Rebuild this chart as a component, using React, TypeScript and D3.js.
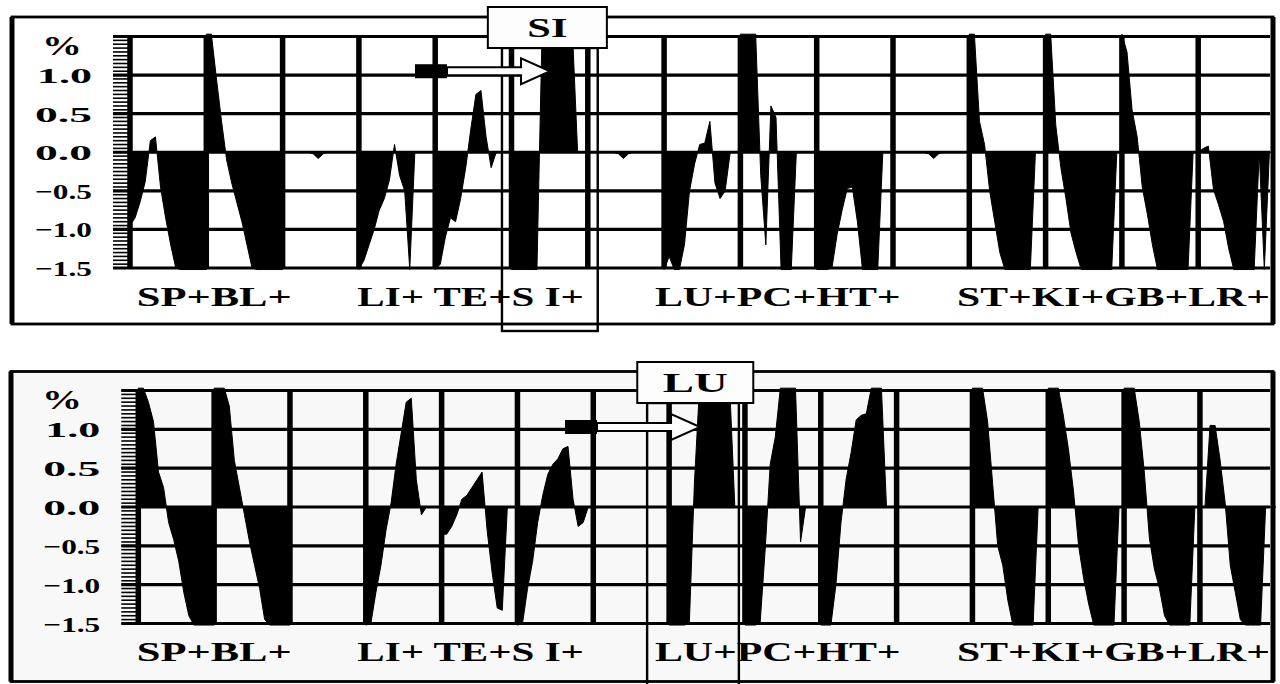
import React from "react";
import * as d3 from "d3";

// ---------- data ----------
const categories = ["SP", "BL", "", "LI", "TE", "SI", "", "LU", "PC", "HT", "", "ST", "KI", "GB", "LR"];
const yTicks = [1.0, 0.5, 0.0, -0.5, -1.0, -1.5];
const labelGroups = ["SP+BL+", "LI+ TE+S I+", "LU+PC+HT+", "ST+KI+GB+LR+"];

// Reference meridian SI (top panel): 16 samples per category
const siSP = [-0.95, -0.85, -0.64, -0.38, 0.15, 0.2, -0.45, -0.85, -1.2, -1.5, -1.6, -1.6, -1.6, -1.6, -1.6, -1.6];
const siBL = [1.6, 1.6, 0.95, 0.4, -0.1, -0.4, -0.65, -0.9, -1.2, -1.5, -1.6, -1.6, -1.6, -1.6, -1.6, -1.6];
const siGapA = [0, 0, 0, 0, 0, 0, -0.02, -0.08, -0.02, 0, 0, 0, 0, 0, 0, 0];
const siLI = [-1.6, -1.4, -1.2, -1.0, -0.75, -0.6, -0.36, 0.1, -0.3, -0.5, -1.6, 0, 0, 0, 0, 0];
const siTE = [-1.6, -1.45, -1.1, -0.85, -0.9, -0.6, -0.2, 0.3, 0.75, 0.8, 0.2, -0.2, 0, 0, 0, 0];
const siSI = [-1.6, -1.6, -1.6, -1.6, -1.6, -1.6, 1.6, 1.6, 1.6, 1.6, 1.6, 1.6, 1.6, 0, 0, 0];
const siGapB = [0, 0, 0, 0, 0, 0, -0.02, -0.08, -0.02, 0, 0, 0, 0, 0, 0, 0];
const siLU = [-1.6, -1.35, -1.6, -1.6, -1.2, -0.5, -0.15, 0.1, 0.12, 0.4, -0.4, -0.6, -0.5, 0, 0, 0];
const siPC = [1.6, 1.6, 1.6, 1.6, -0.3, -1.2, 0.6, 0.45, -1.6, -1.6, -1.6, 0, 0, 0, 0, 0];
const siHT = [-1.6, -1.6, -1.6, -1.5, -1.07, -0.75, -0.47, -0.45, -0.9, -1.6, -1.6, -1.6, -1.6, 0, 0, 0];
const siGapC = [0, 0, 0, 0, 0, 0, 0, -0.02, -0.08, -0.02, 0, 0, 0, 0, 0, 0];
const siST = [1.6, 1.6, 0.4, 0.1, -0.5, -0.9, -1.3, -1.6, -1.6, -1.6, -1.6, -1.6, -1.6, 0, 0, 0];
const siKI = [1.6, 1.6, 0.35, -0.2, -0.6, -1.05, -1.3, -1.6, -1.6, -1.6, -1.6, -1.6, -1.6, -1.6, 0, 0];
const siGB = [1.6, 1.3, 0.55, 0.2, -0.45, -0.8, -1.2, -1.6, -1.6, -1.6, -1.6, -1.6, -1.6, -1.6, 0, 0];
const siLR = [0, 0.05, 0.08, -0.48, -0.68, -0.9, -1.25, -1.6, -1.6, -1.6, -1.6, -1.6, 0, -1.6, 0, 0];

// Reference meridian LU (bottom panel)
const luSP = [1.6, 1.6, 1.35, 1.1, 0.45, 0.25, -0.2, -0.42, -0.7, -1.1, -1.4, -1.6, -1.6, -1.6, -1.6, -1.6];
const luBL = [1.6, 1.6, 1.6, 1.3, 0.6, 0.25, -0.1, -0.45, -0.75, -1.05, -1.45, -1.6, -1.6, -1.6, -1.6, -1.6];
const luGapA = [0, 0, 0, 0, 0, 0, 0, 0, 0, 0, 0, 0, 0, 0, 0, 0];
const luLI = [-1.6, -1.5, -1.1, -0.75, -0.3, 0.05, 0.55, 0.95, 1.35, 1.4, 0.35, -0.1, 0, 0, 0, 0];
const luTE = [-0.35, -0.35, -0.25, -0.1, 0.1, 0.15, 0.25, 0.35, 0.45, -0.3, -0.85, -1.3, -1.33, 0, 0, 0];
const luSI = [-1.6, -1.5, -1.05, -0.7, -0.2, 0.15, 0.42, 0.55, 0.62, 0.75, 0.78, 0.1, -0.25, -0.2, 0, 0];
const luGapB = [0, 0, 0, 0, 0, 0, 0, 0, 0, 0, 0, 0, 0, 0, 0, 0];
const luLU = [-1.6, -1.6, -1.6, -1.6, -1.5, 0.3, 1.6, 1.6, 1.6, 1.6, 1.6, 1.6, 1.6, 0, 0, 0];
const luPC = [-1.6, -1.6, -1.6, -1.5, -0.55, 0.55, 0.9, 1.6, 1.6, 1.6, 1.6, -0.45, 0, 0, 0, 0];
const luHT = [-1.6, -1.6, -1.55, -1.0, -0.2, 0.35, 0.7, 1.12, 1.18, 1.2, 1.6, 1.6, 1.6, 0, 0, 0];
const luGapC = [0, 0, 0, 0, 0, 0, 0, 0, 0, 0, 0, 0, 0, 0, 0, 0];
const luST = [1.6, 1.6, 1.6, 1.1, 0.3, -0.5, -0.75, -1.2, -1.6, -1.6, -1.6, -1.6, -1.6, 0, 0, 0];
const luKI = [1.6, 1.6, 1.6, 1.17, 0.74, 0.2, -0.5, -0.92, -1.25, -1.55, -1.6, -1.6, -1.6, -1.6, 0, 0];
const luGB = [1.6, 1.6, 1.6, 1.1, 0.45, -0.4, -0.8, -1.05, -1.4, -1.6, -1.6, -1.6, -1.6, -1.6, 0, 0];
const luLR = [0, 0, 1.05, 1.05, 0.6, 0.05, -0.75, -1.1, -1.45, -1.6, -1.6, -1.6, -1.6, 0, 0, 0];

const siValues = [siSP, siBL, siGapA, siLI, siTE, siSI, siGapB, siLU, siPC, siHT, siGapC, siST, siKI, siGB, siLR];
const luValues = [luSP, luBL, luGapA, luLI, luTE, luSI, luGapB, luLU, luPC, luHT, luGapC, luST, luKI, luGB, luLR];

// ---------- layout ----------
const FONT = "Liberation Serif, Times New Roman, serif";
const labelSpans = [[0.09, 2.12], [2.98, 5.95], [6.88, 10.1], [10.84, 14.94]];

type Cfg = {
  title: string;
  values: number[][];
  frame: { l: number; t: number; r: number; b: number };
  bg: string;
  x0: number;
  step: number;
  yTop: number;
  yBottom: number;
  titleBox: { c0: number; c1: number; t: number; b: number; tw: number };
  highlight: { c0: number; c1: number; t: number; b: number };
  arrow: { from: number; to: number; value: number };
};

const panels: Cfg[] = [
  {
    title: "SI",
    values: siValues,
    frame: { l: 12, t: 17, r: 1273, b: 324 },
    bg: "#ffffff",
    x0: 130,
    step: 76.3,
    yTop: 36.5,
    yBottom: 268,
    titleBox: { c0: 4.69, c1: 6.25, t: 7, b: 48, tw: 40 },
    highlight: { c0: 4.875, c1: 6.13, t: 48, b: 331 },
    arrow: { from: 3.735, to: 5.505, value: 1.05 },
  },
  {
    title: "LU",
    values: luValues,
    frame: { l: 11, t: 371.5, r: 1273, b: 681.5 },
    bg: "#f8f8f8",
    x0: 138.3,
    step: 75.83,
    yTop: 390.5,
    yBottom: 623.5,
    titleBox: { c0: 6.58, c1: 8.11, t: 362, b: 403, tw: 65 },
    highlight: { c0: 6.71, c1: 7.92, t: 403, b: 686 },
    arrow: { from: 5.627, to: 7.408, value: 1.03 },
  },
];

const clamp = (v: number) => Math.max(-1.52, Math.min(1.53, v));

function Panel({ cfg }: { cfg: Cfg }) {
  const n = categories.length;
  const x = d3.scaleLinear().domain([0, n]).range([cfg.x0, cfg.x0 + cfg.step * n]);
  const y = d3.scaleLinear().domain([-1.5, 1.5]).range([cfg.yBottom, cfg.yTop]);
  const lx = d3.scaleLinear().domain([0, n]).range([130, 130 + 76.3 * n]);
  const rulerLeft = cfg.x0 - 17;
  const labelRight = cfg.x0 - 38;
  const gridRight = 1270;
  const gridValues = d3.range(-1.5, 1.5001, 0.5);
  const rulerValues = d3.range(-1.5, 1.5001, 0.05);
  const fmt = d3.format(".1f");

  const { frame } = cfg;
  const ay = y(cfg.arrow.value);
  const ax0 = x(cfg.arrow.from);
  const ax1 = x(cfg.arrow.to);
  const tailEnd = ax0 + 32;
  const headStart = ax1 - 29;
  const arrowPath = [
    `M${tailEnd},${ay - 4}`,
    `L${headStart},${ay - 4}`,
    `L${headStart},${ay - 13}`,
    `L${ax1},${ay}`,
    `L${headStart},${ay + 13}`,
    `L${headStart},${ay + 4}`,
    `L${tailEnd},${ay + 4}`,
    "Z",
  ].join(" ");

  return (
    <g>
      <rect x={frame.l} y={frame.t} width={frame.r - frame.l} height={frame.b - frame.t} fill={cfg.bg} />
      {/* horizontal grid */}
      {gridValues.map((v) => (
        <line key={"g" + v} x1={rulerLeft} x2={gridRight} y1={y(v)} y2={y(v)} stroke="#000" strokeWidth={3.2} />
      ))}
      {/* ruler ticks */}
      {rulerValues.map((v, i) => (
        <line key={"r" + i} x1={rulerLeft} x2={cfg.x0} y1={y(v)} y2={y(v)} stroke="#000" strokeWidth={1.6} />
      ))}
      {/* data areas */}
      {cfg.values.map((seg, si) => {
        const area = d3
          .area<number>()
          .x((_, j) => x(si + j / (seg.length - 1)))
          .y0(y(0))
          .y1((d) => y(clamp(d)));
        return <path key={"a" + si} d={area(seg) || ""} fill="#000" stroke="#000" strokeWidth={1} />;
      })}
      {/* category boundaries */}
      {categories.map((_, i) => (
        <line key={"v" + i} x1={x(i)} x2={x(i)} y1={y(1.5)} y2={y(-1.5)} stroke="#000" strokeWidth={5.5} />
      ))}
      {/* frame */}
      <rect x={frame.l} y={frame.t} width={frame.r - frame.l} height={frame.b - frame.t} fill="none" stroke="#000" strokeWidth={2.8} />
      <line x1={frame.l} x2={frame.l} y1={frame.t} y2={frame.b} stroke="#000" strokeWidth={5} />
      <line x1={frame.r} x2={frame.r} y1={frame.t} y2={frame.b} stroke="#000" strokeWidth={5} />
      {/* y tick labels */}
      {yTicks.map((v) => {
        const s = fmt(v);
        const w = s.startsWith("-") ? 74 : s.startsWith("1") ? 55 : 57;
        return (
          <text
            key={"t" + v}
            x={labelRight - w}
            y={y(v) + 8}
            fontFamily={FONT}
            fontWeight="bold"
            fontSize={22}
            textLength={w}
            lengthAdjust="spacingAndGlyphs"
            fill="#000"
          >
            {s}
          </text>
        );
      })}
      <text x={42} y={cfg.yTop + 18} fontFamily={FONT} fontWeight="bold" fontSize={28} textLength={40} lengthAdjust="spacingAndGlyphs" fill="#000">
        %
      </text>
      {/* category labels */}
      {labelGroups.map((s, i) => (
        <text
          key={"c" + i}
          x={lx(labelSpans[i][0])}
          y={cfg.yBottom + 37.5}
          fontFamily={FONT}
          fontWeight="bold"
          fontSize={27}
          textLength={lx(labelSpans[i][1]) - lx(labelSpans[i][0])}
          lengthAdjust="spacingAndGlyphs"
          fill="#000"
        >
          {s}
        </text>
      ))}
      {/* highlight box */}
      <rect
        x={x(cfg.highlight.c0)}
        y={cfg.highlight.t}
        width={x(cfg.highlight.c1) - x(cfg.highlight.c0)}
        height={cfg.highlight.b - cfg.highlight.t}
        fill="none"
        stroke="#000"
        strokeWidth={2.4}
      />
      {/* arrow */}
      <rect x={ax0} y={ay - 7} width={32} height={14} fill="#000" />
      <path d={arrowPath} fill="#fff" stroke="#000" strokeWidth={2} strokeLinejoin="miter" />
      {/* title box */}
      <rect
        x={x(cfg.titleBox.c0)}
        y={cfg.titleBox.t}
        width={x(cfg.titleBox.c1) - x(cfg.titleBox.c0)}
        height={cfg.titleBox.b - cfg.titleBox.t}
        fill="#fdfdfd"
        stroke="#000"
        strokeWidth={2}
      />
      <text
        x={(x(cfg.titleBox.c0) + x(cfg.titleBox.c1)) / 2 - cfg.titleBox.tw / 2}
        y={cfg.titleBox.t + 30}
        fontFamily={FONT}
        fontWeight="bold"
        fontSize={28}
        textLength={cfg.titleBox.tw}
        lengthAdjust="spacingAndGlyphs"
        fill="#000"
      >
        {cfg.title}
      </text>
    </g>
  );
}

export default function App() {
  return (
    <svg width={1280} height={684} style={{ position: "absolute", left: 0, top: 0, background: "#fff" }}>
      {panels.map((p) => (
        <Panel key={p.title} cfg={p} />
      ))}
    </svg>
  );
}
